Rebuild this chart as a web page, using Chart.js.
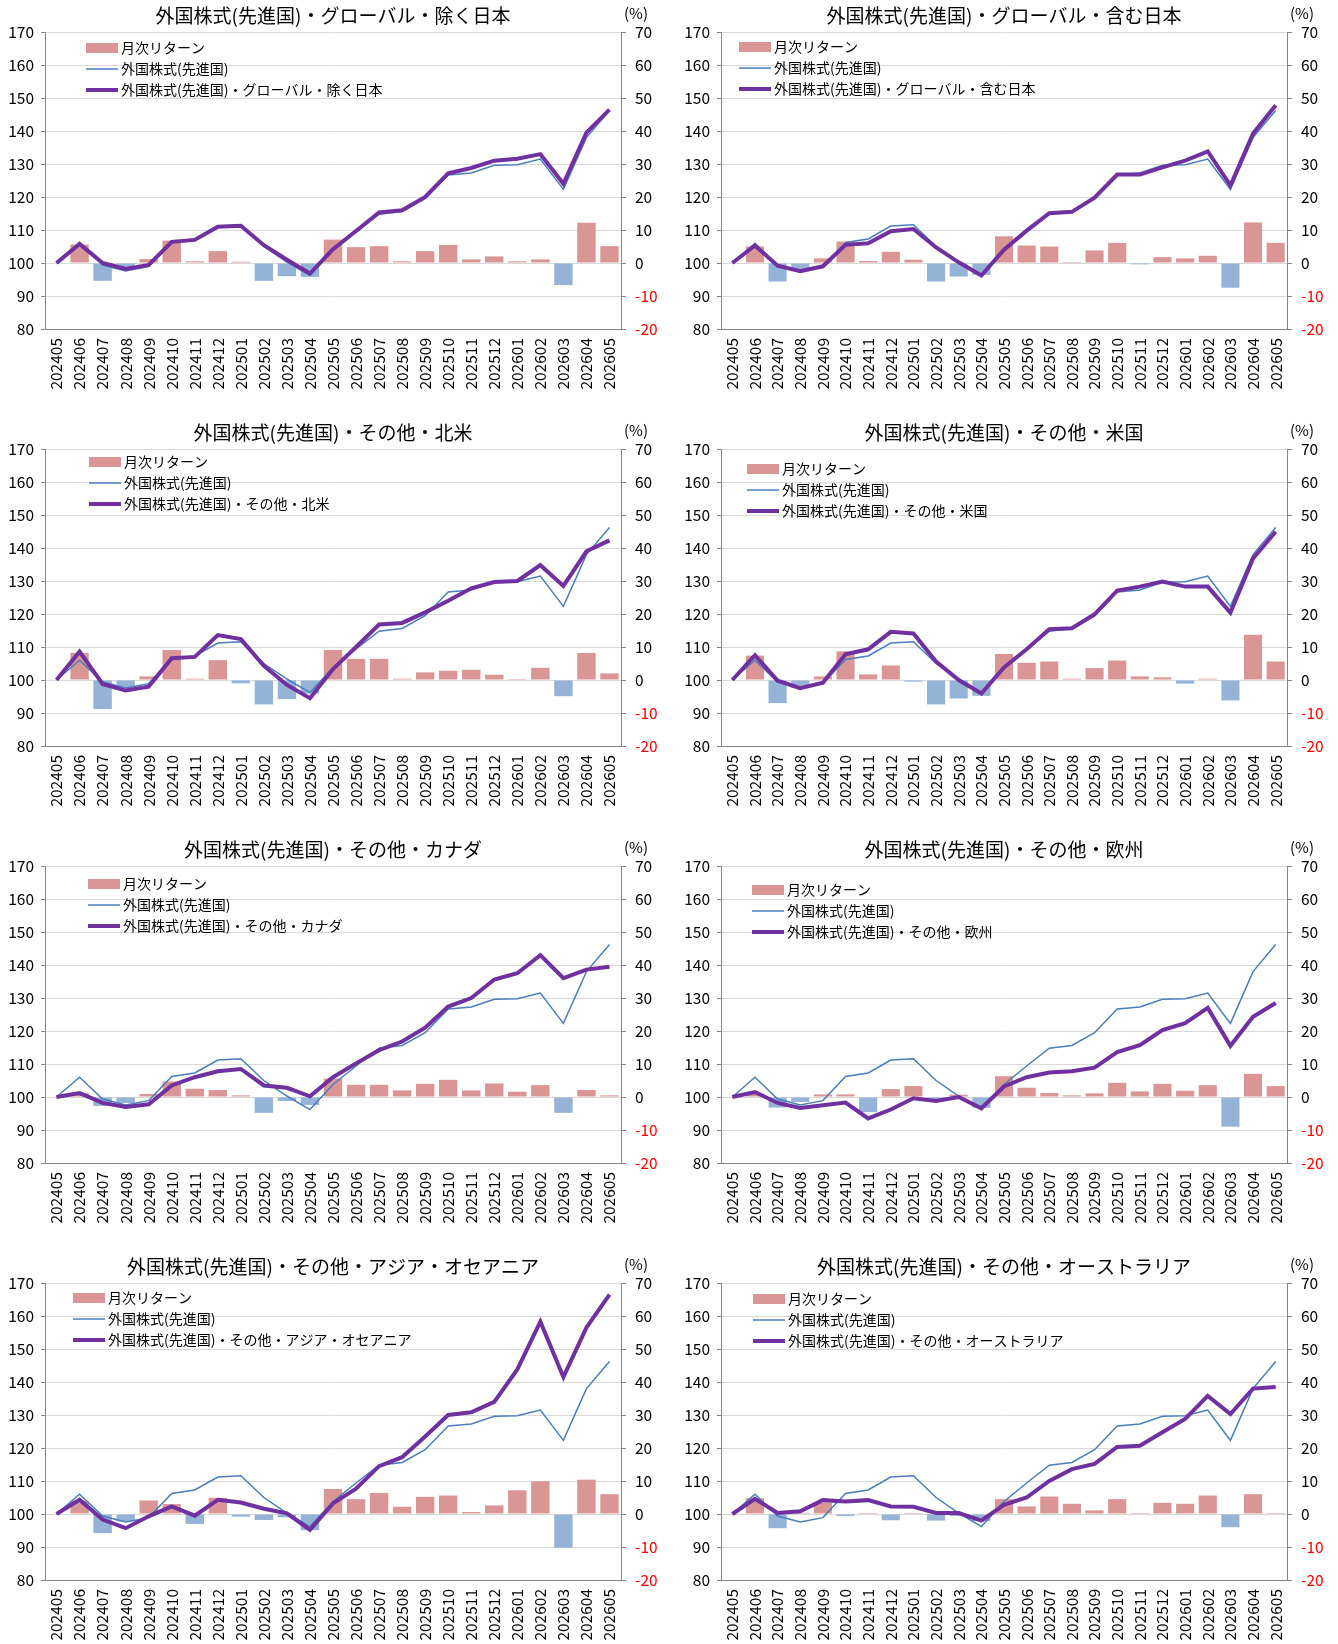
<!DOCTYPE html>
<html>
<head>
<meta charset="utf-8">
<script src="https://cdn.jsdelivr.net/npm/chart.js@4.4.1/dist/chart.umd.min.js"></script>
<style>
html, body { margin: 0; padding: 0; background: #fff; width: 1338px; height: 1644px; overflow: hidden; }
.cell { position: absolute; width: 669px; height: 417px; }
</style>
</head>
<body>
<div id="wrap"></div>
<script>
const months = ['202405', '202406', '202407', '202408', '202409', '202410', '202411', '202412',
    '202501', '202502', '202503', '202504', '202505', '202506', '202507', '202508', '202509',
    '202510', '202511', '202512', '202601', '202602', '202603', '202604', '202605'];

const leftTicks = [80, 170];
const rightTicks = [-20, 70];

// 外国株式(先進国) benchmark, same in every panel
const developedIndex = [100, 106.0, 99.4, 97.6, 98.9, 106.2, 107.3, 111.2, 111.6, 105.0, 100.3, 96.2,
    103.8, 109.4, 114.8, 115.6, 119.5, 126.7, 127.3, 129.6, 129.8, 131.5, 122.3, 138.0, 146.2];

const globalExJpIndex = [100, 105.8, 100.0, 98.2, 99.4, 106.4, 107.0, 111.0, 111.3, 105.4, 101.0, 96.8,
    104.2, 109.7, 115.3, 116.0, 120.0, 127.2, 128.8, 131.0, 131.6, 133.0, 124.0, 139.5, 146.5];
const globalExJpReturn = [null, 5.6, -5.4, -1.8, 1.2, 6.8, 0.5, 3.6, 0.4, -5.4, -4.0, -4.2,
    7.1, 4.8, 5.1, 0.5, 3.6, 5.5, 1.1, 2.0, 0.5, 1.1, -6.7, 12.2, 5.1];

const globalInJpIndex = [100, 105.3, 99.2, 97.5, 99.0, 105.5, 106.0, 109.6, 110.3, 104.7, 100.2, 96.2,
    104.0, 109.8, 115.1, 115.5, 119.8, 126.8, 126.8, 129.0, 131.0, 133.8, 123.5, 139.2, 147.8];
const globalInJpReturn = [null, 5.0, -5.6, -2.0, 1.4, 6.5, 0.6, 3.4, 1.0, -5.6, -4.1, -3.6,
    8.1, 5.3, 5.0, 0.3, 3.8, 6.1, -0.4, 1.8, 1.4, 2.2, -7.5, 12.3, 6.1];

const northAmericaIndex = [100, 108.6, 98.8, 96.8, 98.0, 106.6, 107.0, 113.6, 112.4, 104.3, 98.5, 94.5,
    103.3, 110.0, 116.8, 117.3, 120.5, 124.0, 127.8, 129.7, 130.0, 134.8, 128.5, 139.0, 142.3];
const northAmericaReturn = [null, 8.2, -8.8, -2.1, 1.1, 9.1, 0.4, 6.0, -1.0, -7.4, -5.8, -4.1,
    9.1, 6.4, 6.4, 0.4, 2.3, 2.8, 3.1, 1.6, 0.3, 3.7, -4.9, 8.2, 2.0];

const usIndex = [100, 107.5, 99.8, 97.5, 99.2, 107.8, 109.3, 114.6, 114.1, 105.6, 100.0, 95.9,
    103.8, 109.3, 115.4, 115.7, 119.9, 127.1, 128.3, 129.8, 128.3, 128.3, 120.4, 136.8, 144.9];
const usReturn = [null, 7.4, -7.0, -2.4, 1.1, 8.7, 1.7, 4.4, -0.5, -7.4, -5.6, -4.8,
    7.9, 5.2, 5.6, 0.4, 3.6, 5.9, 1.1, 0.8, -1.1, 0.4, -6.2, 13.7, 5.6];

const canadaIndex = [100, 101.2, 98.2, 97.0, 97.8, 103.5, 106.0, 107.8, 108.5, 103.5, 102.8, 100.2,
    106.0, 110.2, 114.2, 116.8, 121.0, 127.4, 130.0, 135.6, 137.5, 143.0, 136.0, 138.6, 139.5];
const canadaReturn = [null, 1.2, -2.7, -1.8, 0.9, 4.7, 2.5, 2.1, 0.5, -4.8, -1.2, -2.4,
    5.6, 3.7, 3.7, 2.0, 4.0, 5.2, 2.0, 4.1, 1.6, 3.6, -4.8, 2.1, 0.5];

const europeIndex = [100, 101.5, 98.2, 96.7, 97.5, 98.3, 93.5, 96.2, 99.6, 98.8, 100.0, 96.6,
    103.2, 106.0, 107.4, 107.8, 108.9, 113.6, 115.7, 120.3, 122.4, 127.0, 115.5, 124.3, 128.5];
const europeReturn = [null, 1.0, -3.2, -1.5, 0.8, 0.8, -4.6, 2.4, 3.3, -0.8, 0.7, -3.3,
    6.3, 2.8, 1.2, 0.5, 1.1, 4.3, 1.7, 4.0, 1.9, 3.6, -9.0, 7.0, 3.3];

const asiaOceaniaIndex = [100, 104.3, 98.3, 95.7, 99.3, 102.3, 99.5, 104.3, 103.5, 101.6, 100.2, 95.2,
    103.2, 107.7, 114.5, 117.2, 123.5, 130.0, 130.8, 134.0, 143.8, 158.3, 141.5, 156.5, 166.5];
const asiaOceaniaReturn = [null, 4.0, -5.8, -2.2, 4.1, 3.0, -3.0, 4.9, -0.8, -1.8, -1.0, -4.9,
    7.6, 4.5, 6.4, 2.2, 5.2, 5.6, 0.6, 2.6, 7.2, 9.9, -10.2, 10.4, 6.0];

const australiaIndex = [100, 104.6, 100.3, 100.8, 104.2, 103.8, 104.2, 102.3, 102.2, 100.3, 100.3, 98.0,
    102.8, 105.0, 110.0, 113.6, 115.2, 120.3, 120.7, 124.8, 128.8, 135.8, 130.3, 138.0, 138.5];
const australiaReturn = [null, 4.8, -4.3, 0.4, 3.4, -0.6, 0.3, -1.9, 0.3, -2.0, -0.6, -2.2,
    4.5, 2.3, 5.3, 3.1, 1.1, 4.5, 0.3, 3.4, 3.1, 5.6, -4.0, 6.0, 0.3];

const titles = [
    '外国株式(先進国)・グローバル・除く日本',
    '外国株式(先進国)・グローバル・含む日本',
    '外国株式(先進国)・その他・北米',
    '外国株式(先進国)・その他・米国',
    '外国株式(先進国)・その他・カナダ',
    '外国株式(先進国)・その他・欧州',
    '外国株式(先進国)・その他・アジア・オセアニア',
    '外国株式(先進国)・その他・オーストラリア'
];
const benchLabel = '外国株式(先進国)';
const returnLabel = '月次リターン';

const FONT = '"Noto Sans CJK JP", "Noto Sans", sans-serif';
const W = 669, H = 417;

const panels = [
    { index: globalExJpIndex, ret: globalExJpReturn, legend: [41, 16] },
    { index: globalInJpIndex, ret: globalInJpReturn, legend: [18, 15] },
    { index: northAmericaIndex, ret: northAmericaReturn, legend: [44, 13] },
    { index: usIndex, ret: usReturn, legend: [26, 20] },
    { index: canadaIndex, ret: canadaReturn, legend: [43, 18] },
    { index: europeIndex, ret: europeReturn, legend: [31, 24] },
    { index: asiaOceaniaIndex, ret: asiaOceaniaReturn, legend: [28, 15] },
    { index: australiaIndex, ret: australiaReturn, legend: [32, 16] }
];

// title, (%) and the legend inside the plot
const decor = {
    id: 'decor',
    afterDraw(chart, args, opts) {
        const { ctx, chartArea: a } = chart;
        ctx.save();
        ctx.fillStyle = '#000';
        ctx.textBaseline = 'middle';
        ctx.font = `19px ${FONT}`;
        ctx.textAlign = 'center';
        ctx.fillText(opts.title, (a.left + a.right) / 2, a.top - 16);
        ctx.font = `15px ${FONT}`;
        ctx.textAlign = 'left';
        ctx.fillText('(%)', a.right + 3, a.top - 19);

        const x0 = a.left + opts.dx;
        ctx.font = `14px ${FONT}`;
        chart.data.datasets.forEach((ds, i) => {
            const y = a.top + opts.dy + i * 21;
            if (ds.type === 'bar') {
                ctx.fillStyle = '#da9694';
                ctx.fillRect(x0, y - 5, 32, 10);
            } else {
                ctx.strokeStyle = ds.borderColor;
                ctx.lineWidth = ds.borderWidth;
                ctx.beginPath();
                ctx.moveTo(x0, y);
                ctx.lineTo(x0 + 32, y);
                ctx.stroke();
            }
            ctx.fillStyle = '#000';
            ctx.fillText(ds.label, x0 + 35, y);
        });
        ctx.restore();
    }
};

const wrap = document.getElementById('wrap');

panels.forEach((p, i) => {
    const col = i % 2, row = Math.floor(i / 2);
    const plotLeft = col ? 52 : 45;
    const plotRight = col ? 618 : 621;
    const plotTop = 32, plotBottom = 329;

    const cell = document.createElement('div');
    cell.className = 'cell';
    cell.style.left = (col * W) + 'px';
    cell.style.top = (row * H) + 'px';
    const canvas = document.createElement('canvas');
    canvas.width = W;
    canvas.height = H;
    cell.appendChild(canvas);
    wrap.appendChild(cell);

    new Chart(canvas.getContext('2d'), {
        data: {
            labels: months,
            datasets: [
                {
                    type: 'bar',
                    label: returnLabel,
                    data: p.ret,
                    yAxisID: 'y1',
                    backgroundColor: p.ret.map(v => (v !== null && v < 0) ? '#95b3d7' : '#da9694'),
                    categoryPercentage: 0.8,
                    barPercentage: 1.0,
                    order: 3
                },
                {
                    type: 'line',
                    label: benchLabel,
                    data: developedIndex,
                    yAxisID: 'y',
                    borderColor: '#4a7ebb',
                    borderWidth: 1.5,
                    pointRadius: 0,
                    tension: 0,
                    order: 2
                },
                {
                    type: 'line',
                    label: titles[i],
                    data: p.index,
                    yAxisID: 'y',
                    borderColor: '#7030a0',
                    borderWidth: 4,
                    pointRadius: 0,
                    tension: 0,
                    order: 1
                }
            ]
        },
        options: {
            responsive: false,
            animation: false,
            devicePixelRatio: 1,
            layout: { padding: { top: plotTop, left: 0, right: 0, bottom: 0 } },
            plugins: {
                legend: { display: false },
                title: { display: false },
                tooltip: { enabled: false },
                decor: { title: titles[i], dx: p.legend[0], dy: p.legend[1] }
            },
            scales: {
                x: {
                    offset: true,
                    grid: { display: false, drawTicks: false },
                    border: { color: '#868686' },
                    ticks: {
                        autoSkip: false, maxRotation: 90, minRotation: 90, padding: 9,
                        color: '#000', font: { size: 15.5, family: FONT }
                    },
                    afterFit: s => { s.height = H - plotBottom; }
                },
                y: {
                    position: 'left',
                    min: leftTicks[0], max: leftTicks[1],
                    ticks: { stepSize: 10, padding: 7, color: '#000', font: { size: 15.5, family: FONT } },
                    grid: { color: '#d9d9d9', tickColor: '#868686', tickLength: 4 },
                    border: { color: '#868686' },
                    afterFit: s => { s.width = plotLeft; }
                },
                y1: {
                    position: 'right',
                    min: rightTicks[0], max: rightTicks[1],
                    ticks: {
                        stepSize: 10, padding: 9,
                        color: c => c.tick.value < 0 ? '#ff0000' : '#000',
                        font: { size: 15.5, family: FONT }
                    },
                    grid: { drawOnChartArea: false, tickColor: '#868686', tickLength: 5 },
                    border: { color: '#868686' },
                    afterFit: s => { s.width = W - plotRight; }
                }
            }
        },
        plugins: [decor]
    });
});
</script>
</body>
</html>
